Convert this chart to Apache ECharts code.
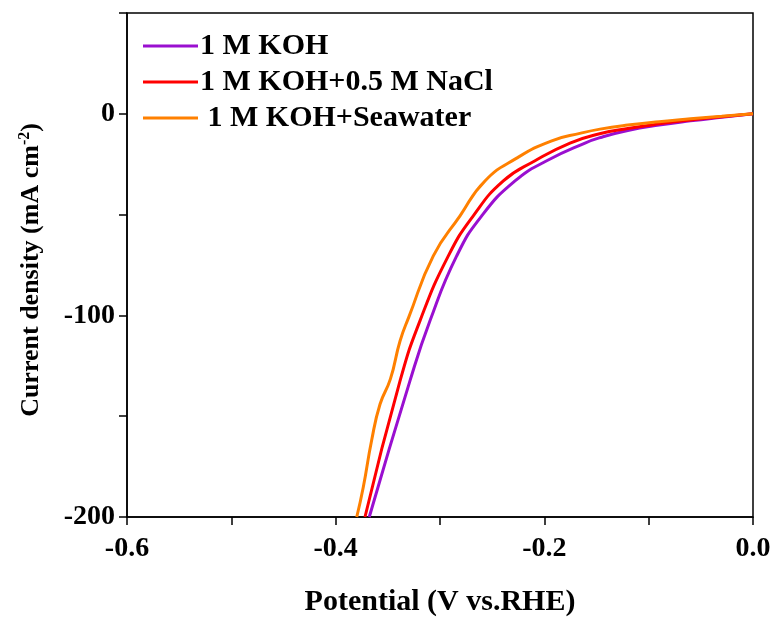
<!DOCTYPE html>
<html><head><meta charset="utf-8">
<script src="https://cdn.jsdelivr.net/npm/echarts@6/dist/echarts.min.js"></script>
<style>html,body{margin:0;padding:0;background:#fff}#c{width:777px;height:617px}</style>
</head><body><div id="c"></div>
<script>
// Series names
const seriesNames = ['1 M KOH', '1 M KOH+0.5 M NaCl', ' 1 M KOH+Seawater'];
// 1 M KOH
const kohX = [-0.3678, -0.3288, -0.3096, -0.284, -0.260, -0.2281, -0.1977, -0.161, -0.145, -0.12, -0.09, -0.06, -0.03, 0];
const kohY = [-200, -132.5, -102.7, -70.5, -50.6, -33.3, -23.3, -14.5, -11.6, -8.3, -5.6, -3.5, -1.7, 0];
// 1 M KOH + 0.5 M NaCl
const naclX = [-0.3719, -0.3383, -0.3192, -0.292, -0.2681, -0.2393, -0.2089, -0.1754, -0.147, -0.12, -0.09, -0.06, -0.03, 0];
const naclY = [-200, -132.5, -102.7, -70.5, -50.6, -33.3, -23.3, -14.5, -9.9, -7.3, -5.0, -3.1, -1.5, 0];
// 1 M KOH + Seawater
const seaX = [-0.3798, -0.3735, -0.3655, -0.3575, -0.3475, -0.3383, -0.3300, -0.3064, -0.2808, -0.2569, -0.2265, -0.1929, -0.165, -0.1466, -0.12, -0.09, -0.06, -0.03, 0];
const seaY = [-200, -185.1, -161.9, -144.1, -131.5, -112.7, -101.0, -70.5, -50.6, -33.3, -22.0, -13.4, -9.6, -7.6, -5.6, -3.9, -2.5, -1.2, 0];

const colors = ['#9a0fd0', '#ff0000', '#ff8000'];
const xs = [kohX, naclX, seaX], ys = [kohY, naclY, seaY];
const font = 'Liberation Serif';

const chart = echarts.init(document.getElementById('c'), null, {renderer: 'canvas'});
chart.setOption({
  animation: false,
  backgroundColor: '#fff',
  grid: {left: 127, right: 24, top: 13, bottom: 100, outerBoundsMode: 'none', containLabel: false,
    show: true, borderColor: '#000', borderWidth: 1.5, backgroundColor: 'transparent'},
  legend: {
    left: 138, top: 26, orient: 'vertical', itemGap: 6, itemWidth: 55, itemHeight: 3,
    icon: 'rect',
    textStyle: {fontFamily: font, fontWeight: 'bold', fontSize: 30, color: '#000', padding: [0, 0, 0, -3]},
    data: seriesNames
  },
  xAxis: {
    type: 'value', min: -0.6, max: 0, interval: 0.1,
    name: 'Potential (V vs.RHE)', nameLocation: 'middle', nameGap: 70,
    nameTextStyle: {fontFamily: font, fontWeight: 'bold', fontSize: 30, color: '#000'},
    axisLine: {show: true, onZero: false, lineStyle: {color: '#000', width: 1.5}},
    axisTick: {show: true, length: 8, lineStyle: {color: '#000', width: 1.5}},
    splitLine: {show: false},
    axisLabel: {
      fontFamily: font, fontWeight: 'bold', fontSize: 28, color: '#000', margin: 18,
      formatter: v => (Math.abs(Math.round(v * 10)) % 2 === 0) ? v.toFixed(1) : ''
    }
  },
  yAxis: {
    type: 'value', min: -200, max: 50, interval: 50,
    name: 'Current density (mA cm{sup|-2})', nameLocation: 'middle', nameGap: 82,
    nameTextStyle: {fontFamily: font, fontWeight: 'bold', fontSize: 26, color: '#000', padding: [0, 10, 0, 0],
      rich: {sup: {fontFamily: font, fontWeight: 'bold', fontSize: 16, color: '#000', verticalAlign: 'top', padding: [0, 0, 12, 0]}}},
    axisLine: {show: true, onZero: false, lineStyle: {color: '#000', width: 1.5}},
    axisTick: {show: true, length: 8, lineStyle: {color: '#000', width: 1.5}},
    splitLine: {show: false},
    axisLabel: {
      fontFamily: font, fontWeight: 'bold', fontSize: 28, color: '#000', margin: 12,
      formatter: v => (v % 100 === 0 && v <= 0) ? String(v) : ''
    }
  },
  series: seriesNames.map((n, i) => ({
    name: n, type: 'line', showSymbol: false, symbol: 'none', smooth: 0.5,
    clip: true,
    color: colors[i],
    lineStyle: {color: colors[i], width: 3},
    data: xs[i].map((x, j) => [x, ys[i][j]])
  }))
});
</script></body></html>
